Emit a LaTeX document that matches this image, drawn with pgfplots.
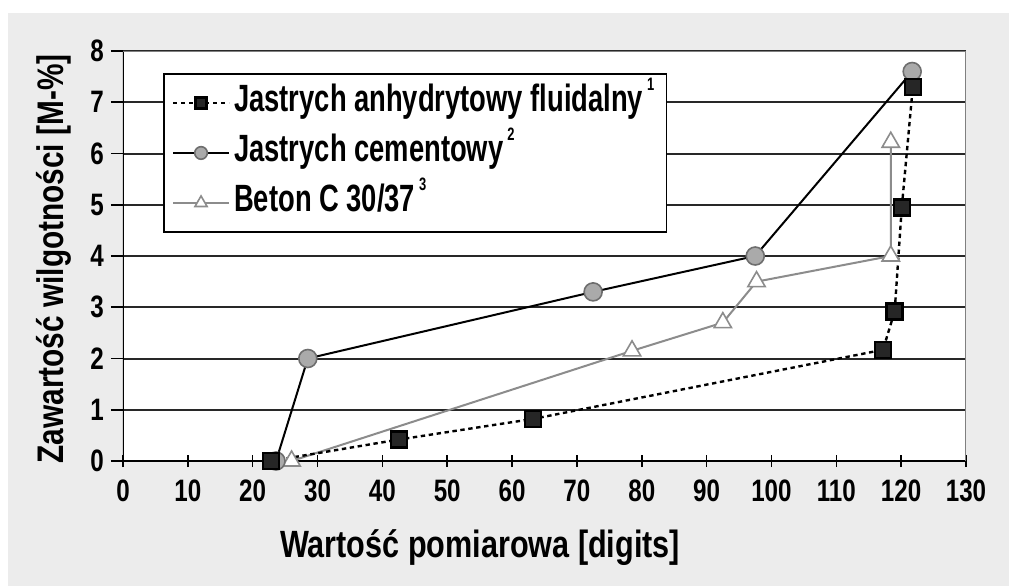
\documentclass[border=0pt]{standalone}
\usepackage{fontspec}
\setmainfont[FakeStretch=0.78]{Liberation Sans}
\newfontfamily\labfont[FakeStretch=0.805]{Liberation Sans}
\newfontfamily\legfont[FakeStretch=0.72]{Liberation Sans}
\usepackage{pgfplots}
\pgfplotsset{compat=1.18}
\definecolor{bgcol}{RGB}{236,236,236}
\definecolor{gridcol}{RGB}{40,40,40}
\definecolor{concgrey}{RGB}{140,140,140}
\definecolor{circfill}{RGB}{170,170,170}
\definecolor{circdraw}{RGB}{110,110,110}
\newcommand{\supnum}[1]{\hspace{2pt}\raisebox{1.05ex}{\fontsize{9}{9}\selectfont #1}}
\begin{document}
\begin{tikzpicture}
\useasboundingbox (-61.5pt,-62.5pt) rectangle (443pt,230.5pt);
\fill[bgcol] (-57.5pt,-62.5pt) rectangle (443pt,224pt);
\begin{axis}[
  at={(0pt,0pt)}, anchor=south west,
  scale only axis, width=421.5pt, height=205pt,
  xmin=0, xmax=130, ymin=0, ymax=8,
  xtick distance=10, ytick distance=1,
  axis background/.style={fill=white},
  axis line style={draw=none},
  ymajorgrids, grid style={gridcol, line width=1pt},
  xtick align=center, ytick align=outside,
  major tick length=6pt,
  tick style={black, line width=0.8pt},
  xtick pos=bottom, ytick pos=left,
  /pgf/number format/assume math mode=true,
  ticklabel style={font=\bfseries\fontsize{15.5}{15.5}\selectfont},
  xticklabel style={yshift=-3pt},
  xlabel={Wartość pomiarowa [digits]},
  ylabel={Zawartość wilgotności [M-\%]},
  xlabel style={at={(axis description cs:0.4235,-0.21)}, anchor=center, font=\labfont\bfseries\fontsize{19}{19}\selectfont},
  ylabel style={at={(axis description cs:-0.082,0.493)}, anchor=center, font=\labfont\bfseries\fontsize{18.5}{18.5}\selectfont},
  legend style={at={(axis description cs:0.0475,0.946)}, anchor=north west,
    draw=black, line width=0.8pt, fill=white, font=\legfont\bfseries\fontsize{19}{19}\selectfont,
    row sep=4pt, inner xsep=4pt, inner ysep=4pt,
    nodes={text height=13pt, text depth=4pt}},
  legend cell align=left,
  reverse legend,
  legend image code/.code={\draw[mark repeat=2,mark phase=2, every mark/.append style={scale=0.7}] plot coordinates {(0pt,0pt) (14pt,0pt) (28pt,0pt)};},
]
\draw[black, line width=1pt] (rel axis cs:0,1) -- (rel axis cs:0,0) -- (rel axis cs:1,0);
\draw[gray, line width=1pt] (rel axis cs:0,1) -- (rel axis cs:1,1) -- (rel axis cs:1,0);

\addplot[concgrey, line width=1pt, mark=triangle*, mark size=5pt,
  mark options={fill=white, draw=concgrey, line width=0.8pt}]
  coordinates {(26,0) (78.5,2.15) (92.5,2.7) (97.7,3.5) (118.4,4.0) (118.4,6.22)};
\addlegendentry{Beton C 30/37\supnum{3}}

\addplot[black, line width=1pt, mark=*, mark size=4.5pt,
  mark options={fill=circfill, draw=circdraw, line width=0.8pt}]
  coordinates {(23.6,0) (28.5,2.0) (72.5,3.3) (97.5,4.0) (121.7,7.6)};
\addlegendentry{Jastrych cementowy\supnum{2}}

\addplot[black, line width=1.2pt, dash pattern=on 2.2pt off 1.8pt, mark=square*, mark size=4pt,
  mark options={solid, fill=black!85, draw=black}]
  coordinates {(22.8,0) (42.6,0.42) (63.2,0.82) (117.2,2.17) (119,2.92) (120.1,4.95) (121.8,7.3)};
\addlegendentry{Jastrych anhydrytowy fluidalny\supnum{1}}
\end{axis}
\end{tikzpicture}
\end{document}
